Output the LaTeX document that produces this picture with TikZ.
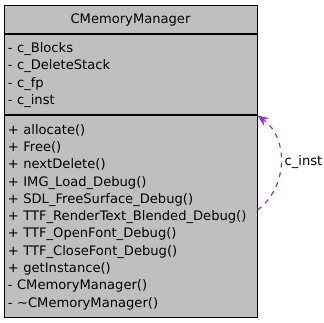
\documentclass[tikz,border=0pt]{standalone}
\usepackage{fontspec}
\setmainfont{DejaVu Sans}
\usetikzlibrary{positioning,arrows.meta}
\definecolor{boxgray}{HTML}{BFBFBF}
\definecolor{usepurple}{HTML}{9A32CD}
\tikzset{
  umlBox/.style = {draw=black, fill=boxgray, line width=1pt, minimum width=253pt,
    inner xsep=4pt, inner ysep=0pt, font=\fontsize{13.1}{17.3}\selectfont},
  umlTitle/.style = {umlBox, minimum height=28pt, align=center},
  umlMembers/.style = {umlBox, text width=245pt, align=left},
    % dashed link for a member that points back at the class
  useLink/.style = {usepurple, line width=1.2pt, dash pattern=on 5pt off 5pt}
}

\begin{document}
\begin{tikzpicture}[x=1pt,y=1pt,>={Stealth[length=11pt,width=9pt]}]
\useasboundingbox (0,0) rectangle (323,323);
\node[umlTitle] (cls) at (130.5,303) {CMemoryManager};
\node[umlMembers, minimum height=80pt, below=0pt of cls] (attrs)
  {- c\_Blocks\\- c\_DeleteStack\\- c\_fp\\- c\_inst};
\node[umlMembers, minimum height=202pt, below=0pt of attrs] (ops)
  {+ allocate()\\+ Free()\\+ nextDelete()\\+ IMG\_Load\_Debug()\\
   + SDL\_FreeSurface\_Debug()\\+ TTF\_RenderText\_Blended\_Debug()\\
   + TTF\_OpenFont\_Debug()\\+ TTF\_CloseFont\_Debug()\\+ getInstance()\\
   - CMemoryManager()\\- \textasciitilde CMemoryManager()};
\draw[useLink,->] ([yshift=7pt]ops.east) .. controls +(31,23) and +(31,-22) .. (attrs.south east)
  node[pos=0.5, anchor=west, black, font=\fontsize{13.1}{17.3}\selectfont] {c\_inst};
\end{tikzpicture}
\end{document}
